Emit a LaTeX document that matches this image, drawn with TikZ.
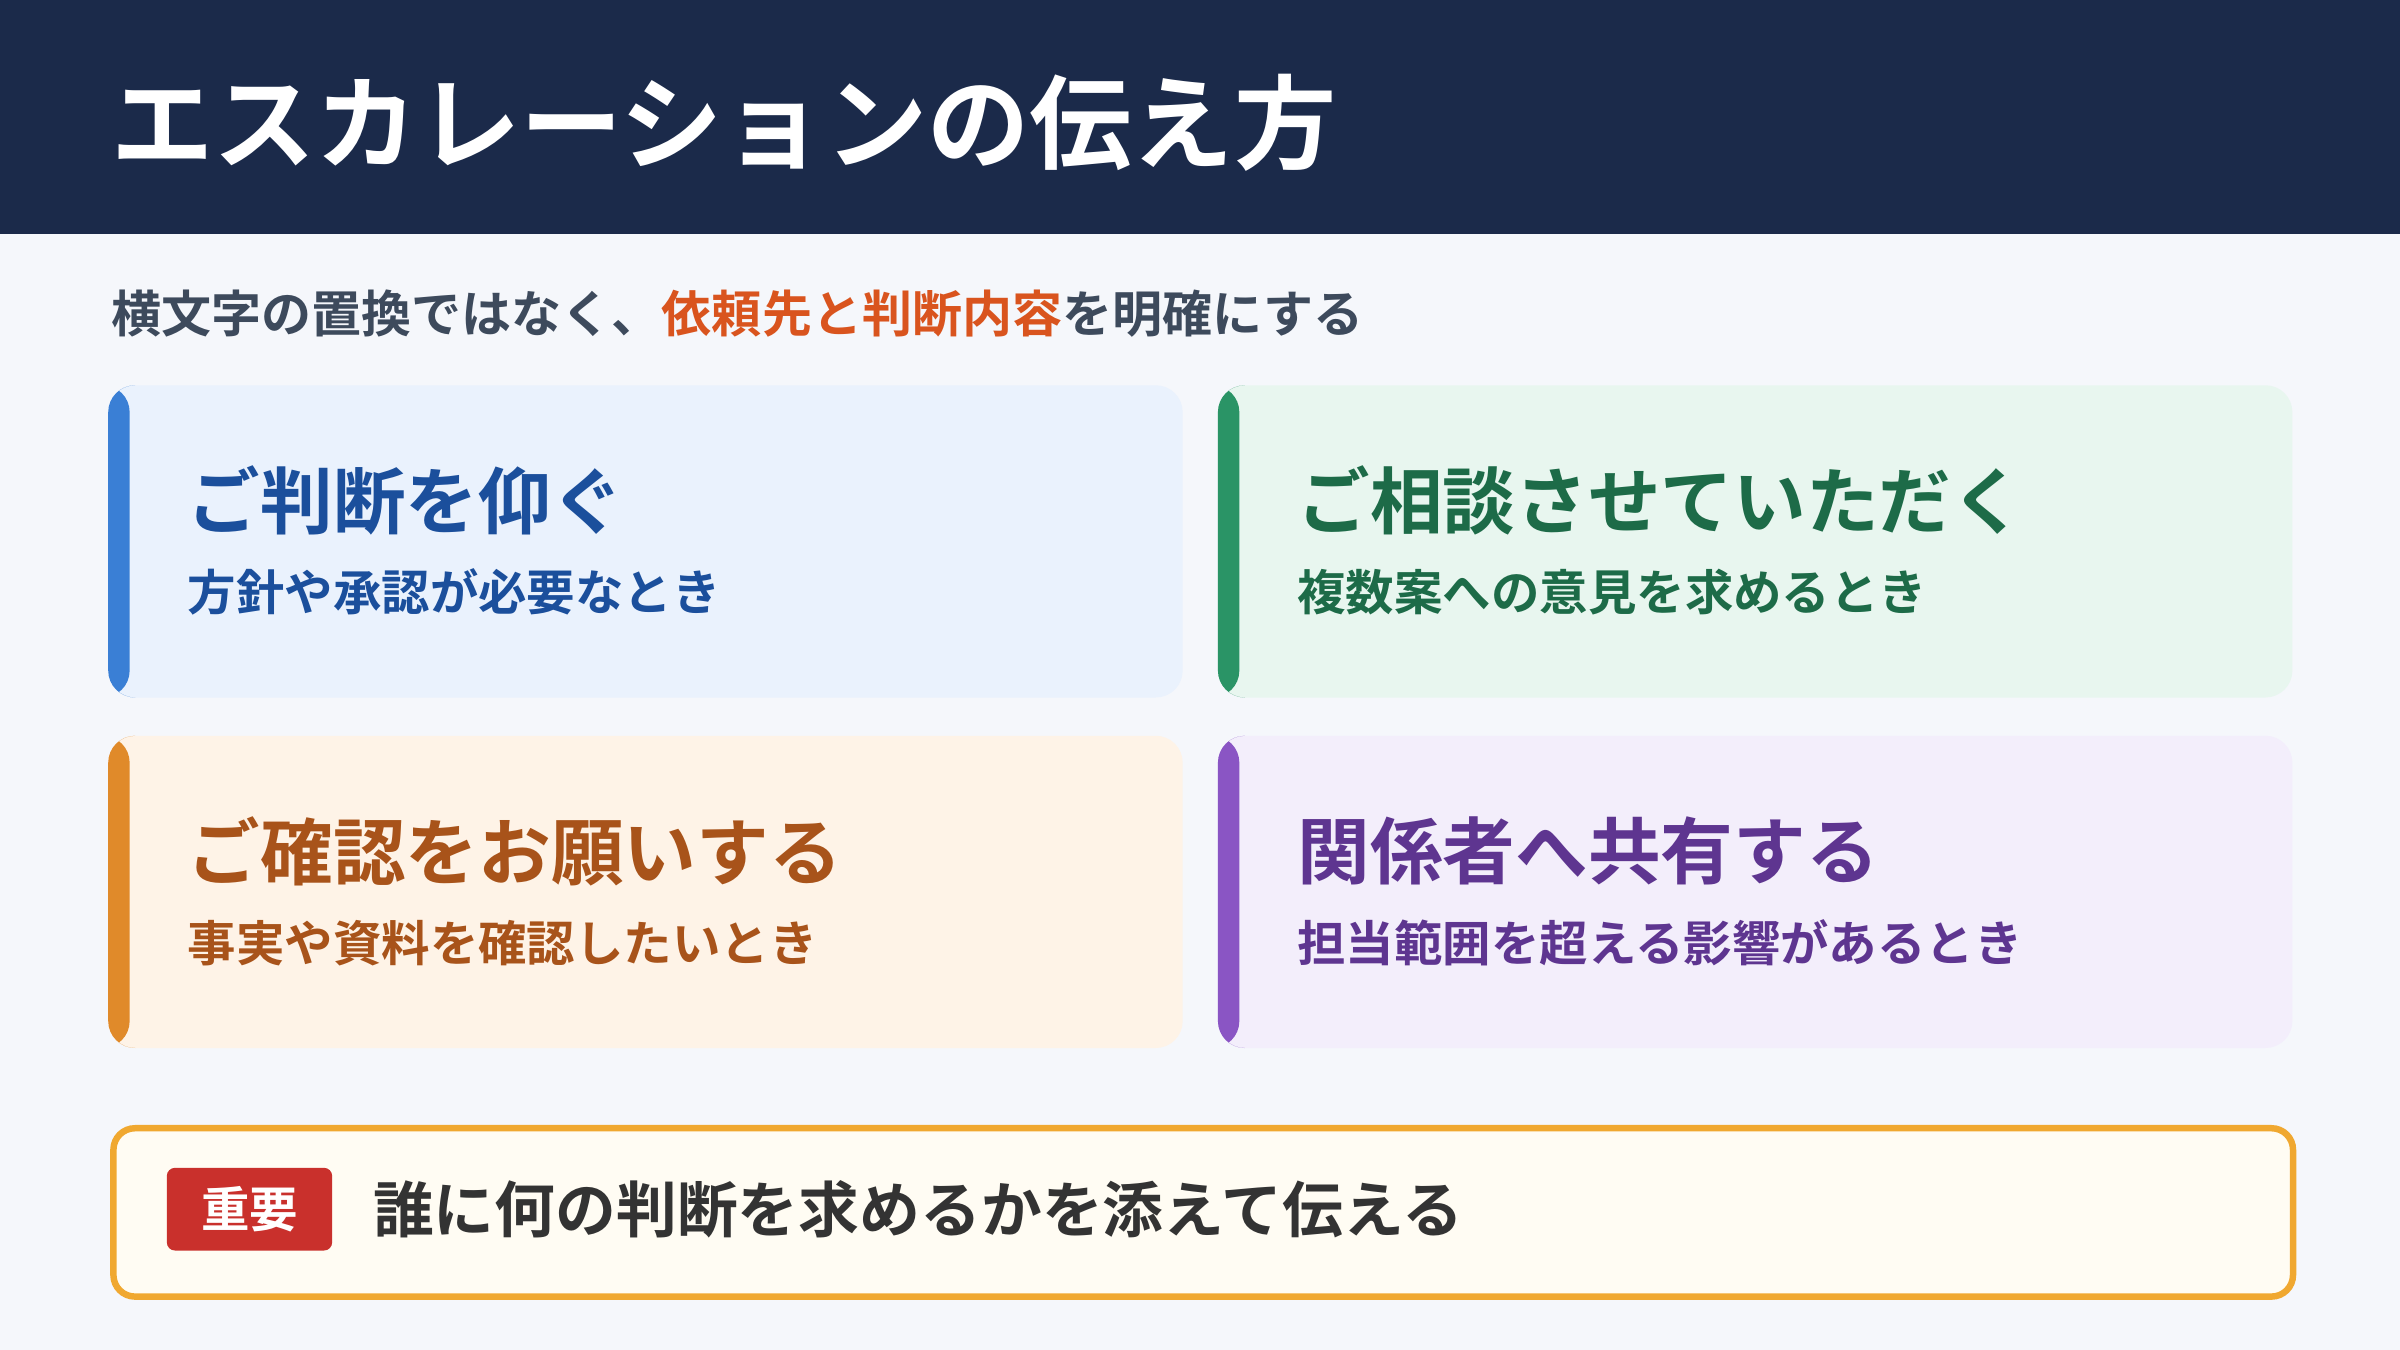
\documentclass[tikz,border=0pt]{standalone}
\usepackage{fontspec}
\setmainfont{Noto Sans CJK JP}[BoldFont={Noto Sans CJK JP Bold}]
\usetikzlibrary{positioning}
\definecolor{navy}{HTML}{1B2A4A}
\definecolor{pagebg}{HTML}{F5F7FB}
\definecolor{subgray}{HTML}{3D4A5C}
\definecolor{accent}{HTML}{D9541E}
\definecolor{blueFill}{HTML}{EAF2FD}\definecolor{blueBar}{HTML}{3A7FD5}\definecolor{blueText}{HTML}{1B4F9C}
\definecolor{greenFill}{HTML}{E8F6EF}\definecolor{greenBar}{HTML}{2A9466}\definecolor{greenText}{HTML}{1D6B48}
\definecolor{orangeFill}{HTML}{FEF3E7}\definecolor{orangeBar}{HTML}{E08A2A}\definecolor{orangeText}{HTML}{A8531A}
\definecolor{purpleFill}{HTML}{F3EEFB}\definecolor{purpleBar}{HTML}{8A55C4}\definecolor{purpleText}{HTML}{5E3590}
\definecolor{noteFill}{HTML}{FFFCF3}\definecolor{noteLine}{HTML}{F0A830}\definecolor{tagRed}{HTML}{C9302C}
\begin{document}
\begin{tikzpicture}
        [x=0.01cm, y=-0.01cm, font=\bfseries,
        card/.style={rectangle, rounded corners=5pt, minimum width=702*0.01cm, minimum height=204*0.01cm, anchor=north west, inner sep=0pt},
        bar/.style={path picture={\fill[#1] (path picture bounding box.north west) rectangle ([xshift=0.14cm]path picture bounding box.south west);}},
        cardtitle/.style={anchor=west, inner sep=0pt, font=\bfseries\fontsize{13.5}{16}\selectfont},
        cardsub/.style={anchor=west, inner sep=0pt, font=\bfseries\fontsize{9}{11}\selectfont}]
        \useasboundingbox (0,0) rectangle (1568,882);
        \fill[pagebg] (0,0) rectangle (1568,882);
        \fill[navy] (0,0) rectangle (1568,153);
        \node[anchor=west, inner sep=0pt, text=white, font=\bfseries\fontsize{19}{22}\selectfont] (title) at (72,80) {エスカレーションの伝え方};
        \node[anchor=west, inner sep=0pt, text=subgray, font=\bfseries\fontsize{9.3}{11}\selectfont] (lead) at (72,205)
        {横文字の置換ではなく、\textcolor{accent}{依頼先と判断内容}を明確にする};

        \node[card, fill=blueFill, bar=blueBar]  (judge)  at (70,251) {};
        \node[card, fill=greenFill, bar=greenBar]  (consult)  at (795,251) {};
        \node[card, fill=orangeFill, bar=orangeBar]  (confirm)  at (70,480) {};
        \node[card, fill=purpleFill, bar=purpleBar]  (share)  at (795,480) {};

        \node[cardtitle, text=blueText] (judgeT) at (122,327) {ご判断を仰ぐ};
        \node[cardsub, text=blueText] (judgeS) at (122,387) {方針や承認が必要なとき};
        \node[cardtitle, text=greenText] (consultT) at (847,327) {ご相談させていただく};
        \node[cardsub, text=greenText] (consultS) at (847,387) {複数案への意見を求めるとき};
        \node[cardtitle, text=orangeText] (confirmT) at (122,556) {ご確認をお願いする};
        \node[cardsub, text=orangeText] (confirmS) at (122,616) {事実や資料を確認したいとき};
        \node[cardtitle, text=purpleText] (shareT) at (847,556) {関係者へ共有する};
        \node[cardsub, text=purpleText] (shareS) at (847,616) {担当範囲を超える影響があるとき};

        \node[rectangle, rounded corners=4pt, draw=noteLine, line width=1.2pt, fill=noteFill, anchor=north west,
              minimum width=1424*0.01cm, minimum height=110*0.01cm] (note) at (72,735) {};
        \node[rectangle, rounded corners=1.5pt, fill=tagRed, text=white, minimum width=108*0.01cm, minimum height=54*0.01cm,
              inner sep=0pt, font=\bfseries\fontsize{9}{11}\selectfont] (tag) at (163,790) {重要};
        \node[anchor=west, inner sep=0pt, text=black!80, font=\bfseries\fontsize{11.3}{13}\selectfont] (noteText) at (243,790)
        {誰に何の判断を求めるかを添えて伝える};
\end{tikzpicture}
\end{document}
